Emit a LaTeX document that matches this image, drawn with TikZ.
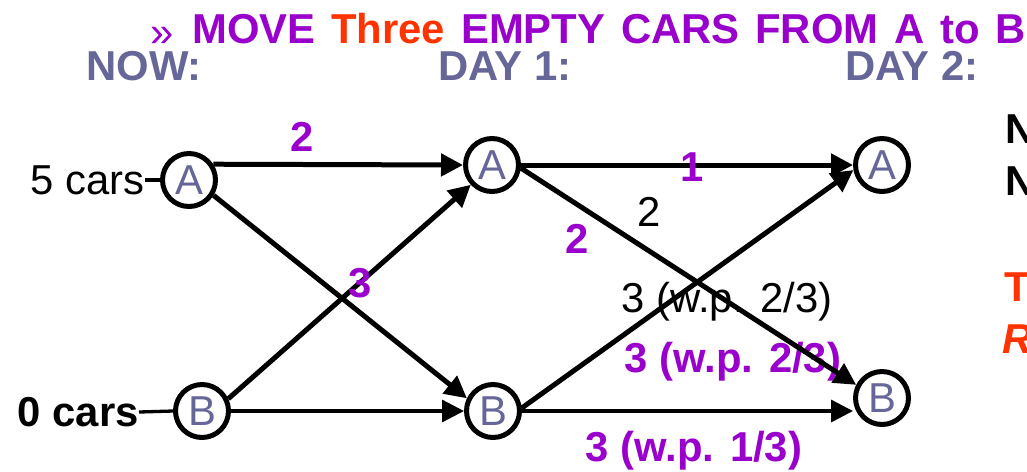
\documentclass[tikz,border=0pt]{standalone}
\usepackage{fontspec}
\setmainfont{Liberation Sans}
\usetikzlibrary{arrows.meta}
\definecolor{MovePurple}{HTML}{9900CC}
\definecolor{MoveRed}{HTML}{FF3300}
\definecolor{DaySlate}{HTML}{666699}
\newcommand{\bigtxt}{\fontsize{23.8pt}{28pt}\selectfont}

\begin{document}
\begin{tikzpicture}[
  x=0.02cm,y=-0.02cm,
  font=\bigtxt,
  st/.style={circle,draw=black,line width=0.1cm,minimum size=1.06cm,
             inner sep=0pt,text=DaySlate},
  ar/.style={-{Triangle[length=0.44cm,width=0.44cm]},line width=0.1cm},
  thinar/.style={ar,line width=0.066cm},
  pl/.style={text=MovePurple,font=\bigtxt\bfseries},
  hd/.style={anchor=base west,inner sep=0pt,font=\bigtxt\bfseries},
]
\useasboundingbox (0,0) rectangle (1027,471);
\clip (0,0) rectangle (1027,471);
\node[hd,text=MovePurple,font=\bigtxt] (bul) at (150,46) {»};
\node[hd,text=MovePurple] (title) at (192,43)
  {\spaceskip=.38em MOVE \textcolor{MoveRed}{Three} EMPTY CARS FROM A to B};
\node[hd,text=DaySlate] (now) at (86,80) {NOW:};
\node[hd,text=DaySlate] (day1) at (438,80) {DAY 1:};
\node[hd,text=DaySlate] (day2) at (845,80) {DAY 2:};
\node[hd] (r1) at (1005,143) {N};
\node[hd] (r2) at (1005,195) {N};
\node[hd,text=MoveRed] (r3) at (1004,301) {T};
\node[hd,text=MoveRed,font=\bigtxt\bfseries\itshape] (r4) at (1002,353) {R};

\node[st] (a0) at (189,180) {A};
\node[st] (b0) at (202,411) {B};
\node[st] (a1) at (492,165) {A};
\node[st] (b1) at (493,411) {B};
\node[st] (a2) at (882,165) {A};
\node[st] (b2) at (882,398) {B};
\node[anchor=east,inner sep=0pt] (n5) at (145,180) {5 cars};
\node[anchor=east,inner sep=0pt,font=\bigtxt\bfseries] (n0) at (139,412) {0 cars};
\draw[line width=0.08cm] (n5.east) -- (a0.west); \draw[line width=0.066cm] (n0.east) -- (b0.west);

\node[pl] (l2a) at (302,137) {2};
\node (l2b) at (649,212) {2};
\node[pl] (l2c) at (577,239) {2};
\node (lwpa) at (727,302) {3 (w.p. 2/3)};
\node[pl] (lwpb) at (733,362) {3 (w.p. 2/3)};
\node[pl] (lwpc) at (694,451) {3 (w.p. 1/3)};

\draw[ar] (a0.33) -- (a1.west); \draw[ar] (a0.-32) -- (b1.154);
\draw[ar] (b0.25) -- (a1.223); \draw[thinar] (b0.east) -- (b1.west);
\draw[ar] (a1.east) -- (a2.west); \draw[ar] (a1.-6) -- (b2.153);
\draw[ar] (b1.6) -- (a2.190); \draw[thinar] (b1.east) -- (b1.east -| b2.west);

\node[pl] (l3) at (360,283) {3};
\node[pl] (l1) at (692,167) {1};
\end{tikzpicture}
\end{document}
